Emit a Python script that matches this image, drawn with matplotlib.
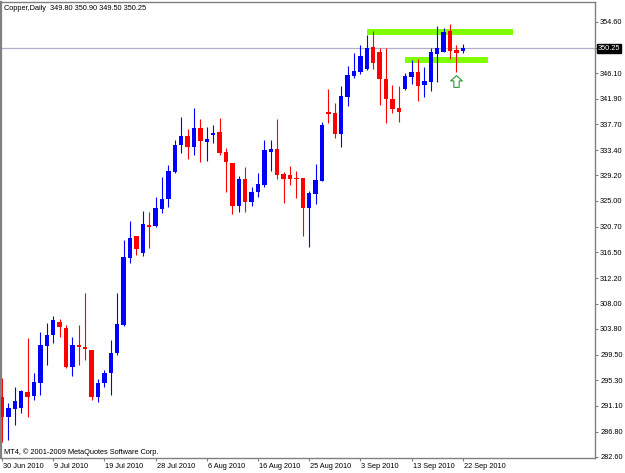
import matplotlib
matplotlib.use('Agg')
import matplotlib.pyplot as plt
from matplotlib.path import Path
import matplotlib.transforms as mtransforms
import numpy as np

# ---- data ----
opens = [292.5, 289.2, 290.5, 290.7, 293.4, 292.7, 294.8, 301.0, 302.8, 304.9,
         304.0, 297.5, 301.1, 300.8, 300.3, 292.5, 294.8, 296.5, 299.8, 304.4,
         315.5, 319.2, 316.4, 321.0, 320.8, 323.6, 325.3, 329.8, 334.2, 335.7,
         333.9, 337.1, 334.7, 335.9, 336.4, 333.1, 331.3, 324.1, 328.6, 324.8,
         326.5, 327.6, 333.1, 333.6, 329.4, 329.3, 328.8, 328.8, 323.8, 326.1,
         328.3, 339.7, 339.5, 336.1, 342.2, 345.7, 346.3, 346.8, 350.5, 349.6,
         345.2, 341.9, 340.4, 343.5, 345.5, 346.3, 344.2, 344.7, 349.3, 349.6,
         353.1, 350.0, 349.80]
highs = [295.7, 291.5, 294.2, 293.7, 302.3, 296.5, 303.3, 304.8, 305.9, 305.4,
         304.4, 302.5, 304.4, 309.7, 300.3, 295.5, 297.0, 302.0, 309.7, 318.5,
         321.7, 319.2, 323.3, 323.2, 325.6, 328.9, 330.9, 335.1, 338.9, 336.9,
         340.4, 338.5, 337.2, 337.5, 338.7, 333.7, 331.3, 329.1, 330.6, 327.3,
         329.6, 335.1, 335.1, 338.5, 329.8, 330.8, 329.9, 328.8, 326.6, 331.1,
         338.0, 343.5, 341.2, 344.0, 347.3, 349.5, 350.8, 352.4, 353.1, 350.3,
         350.3, 344.2, 344.0, 346.2, 348.3, 348.5, 347.1, 350.3, 353.9, 353.6,
         354.3, 350.8, 350.90]
lows = [285.1, 285.4, 287.9, 289.9, 289.2, 292.0, 292.9, 297.8, 301.5, 302.5,
        297.3, 296.0, 297.8, 298.7, 292.0, 291.7, 294.2, 292.9, 299.5, 304.3,
        314.7, 316.0, 315.9, 317.2, 320.7, 323.0, 324.0, 329.6, 332.9, 331.9,
        332.6, 331.4, 331.6, 334.6, 332.6, 326.5, 322.8, 323.2, 323.2, 324.1,
        325.6, 327.3, 329.9, 328.6, 324.6, 327.6, 325.5, 319.2, 317.4, 324.5,
        328.3, 337.9, 335.4, 333.9, 340.7, 345.3, 346.0, 346.6, 346.8, 340.9,
        337.9, 339.5, 338.0, 343.3, 344.3, 341.5, 342.2, 343.2, 344.7, 349.6,
        348.5, 346.3, 349.50]
closes = [289.2, 290.7, 291.9, 293.5, 292.5, 295.0, 301.1, 302.8, 305.3, 304.1,
          297.5, 301.1, 300.8, 300.5, 292.5, 294.8, 296.5, 299.8, 304.6, 315.7,
          318.8, 317.0, 321.2, 320.7, 323.8, 325.3, 329.9, 334.2, 335.7, 333.9,
          337.1, 334.9, 335.2, 336.2, 332.9, 331.4, 324.1, 328.6, 324.8, 326.5,
          327.8, 333.4, 333.6, 329.3, 328.6, 328.6, 328.6, 323.8, 326.3, 328.4,
          337.5, 339.4, 336.1, 342.3, 345.8, 346.5, 349.0, 350.3, 347.8, 345.2,
          341.9, 340.2, 339.7, 345.7, 346.3, 344.0, 344.8, 349.6, 350.3, 352.9,
          349.8, 349.5, 350.25]

date_labels = ['30 Jun 2010', '9 Jul 2010', '19 Jul 2010', '28 Jul 2010', '6 Aug 2010',
               '16 Aug 2010', '25 Aug 2010', '3 Sep 2010', '13 Sep 2010', '22 Sep 2010']
date_label_bars = [0, 8, 16, 24, 32, 40, 48, 56, 64, 72]

price_ticks = [282.60, 286.80, 291.10, 295.30, 299.50, 303.80, 308.00, 312.20, 316.50,
               320.70, 325.00, 329.20, 333.40, 337.70, 341.90, 346.10, 354.60]
bid_price = 350.25

# horizontal levels: (price, start bar, end bar)
level_prices = [352.9, 348.3]
level_starts = [57.0, 63.0]
level_ends = [79.8, 75.9]

arrow_bar = 71
arrow_price = 344.8

title_text = 'Copper,Daily  349.80 350.90 349.50 350.25'
copyright_text = 'MT4, \u00a9 2001-2009 MetaQuotes Software Corp.'

# ---- figure ----
W, H = 625, 473
fig = plt.figure(figsize=(W / 100, H / 100), dpi=100)
fig.patch.set_facecolor('white')
ax = fig.add_axes([1 / W, 1 - 458 / H, 594 / W, 456 / H])
ax.set_facecolor('white')

FONT = 'Liberation Sans'
FS = 5.3

x = np.arange(len(opens))
o = np.array(opens); h = np.array(highs); l = np.array(lows); c = np.array(closes)
up = c >= o
colors = np.where(up, '#0000FF', '#FF0000')

# levels (behind candles)
for p, s, e in zip(level_prices, level_starts, level_ends):
    ax.hlines(p, s, e, colors='#80FF00', linewidth=4.3, zorder=1, capstyle='butt')

# bid line
ax.axhline(bid_price, color='#B0B0CC', linewidth=0.9, zorder=1.5)

# wicks
ax.vlines(x, l, h, colors=colors, linewidth=0.8, zorder=2)
# bodies
body_bottom = np.minimum(o, c)
body_h = np.maximum(np.abs(c - o), 0.25)
ax.bar(x, body_h, bottom=body_bottom, width=0.68, color=colors, linewidth=0, zorder=3)

# arrow marker
arrow_path = Path([(0, 1), (1, 0.1), (0.45, 0.1), (0.45, -1), (-0.45, -1), (-0.45, 0.1),
                   (-1, 0.1), (0, 1)],
                  [Path.MOVETO] + [Path.LINETO] * 6 + [Path.CLOSEPOLY])
ax.plot([arrow_bar], [arrow_price], marker=arrow_path, markersize=8.5,
        markerfacecolor='white', markeredgecolor='#2E9A2E', markeredgewidth=0.8,
        linestyle='none', zorder=4)

ax.set_xlim(-0.16, 92.66)
ax.set_ylim(282.43, 357.9)

# axes styling
for side in ['left', 'top', 'right', 'bottom']:
    ax.spines[side].set_color('#808080')
    ax.spines[side].set_linewidth(1.0)
ax.spines['left'].set_linewidth(1.6)

ax.yaxis.tick_right()
ax.set_yticks(price_ticks + [bid_price])
ax.set_yticklabels(['%.2f' % v for v in price_ticks] + [''], fontsize=FS, family=FONT)
ax.tick_params(axis='y', length=2.2, width=0.8, color='#808080', pad=1.5, labelcolor='black')

ax.set_xticks(date_label_bars)
ax.set_xticklabels(date_labels, fontsize=FS, family=FONT, ha='left')
ax.tick_params(axis='x', length=2.2, width=0.8, color='#808080', pad=1.5, labelcolor='black')
for lbl in ax.get_xticklabels():
    lbl.set_transform(lbl.get_transform() + mtransforms.ScaledTranslation(1 / 100, 0, fig.dpi_scale_trans))

# bid label on right axis
trans = mtransforms.blended_transform_factory(ax.transAxes, ax.transData)
ax.text(1.0 + 3 / 594, bid_price, '%.2f' % bid_price, transform=trans, fontsize=FS,
        family=FONT, color='white', ha='left', va='center',
        bbox=dict(boxstyle='square,pad=0.15', facecolor='black', edgecolor='black'),
        clip_on=False, zorder=10)

fig.text(4 / W, 1 - 8 / H, title_text, fontsize=FS, family=FONT, ha='left', va='center')
fig.text(4 / W, 1 - 452 / H, copyright_text, fontsize=FS, family=FONT, ha='left', va='center')

fig.savefig('out.png', dpi=100, facecolor='white')
